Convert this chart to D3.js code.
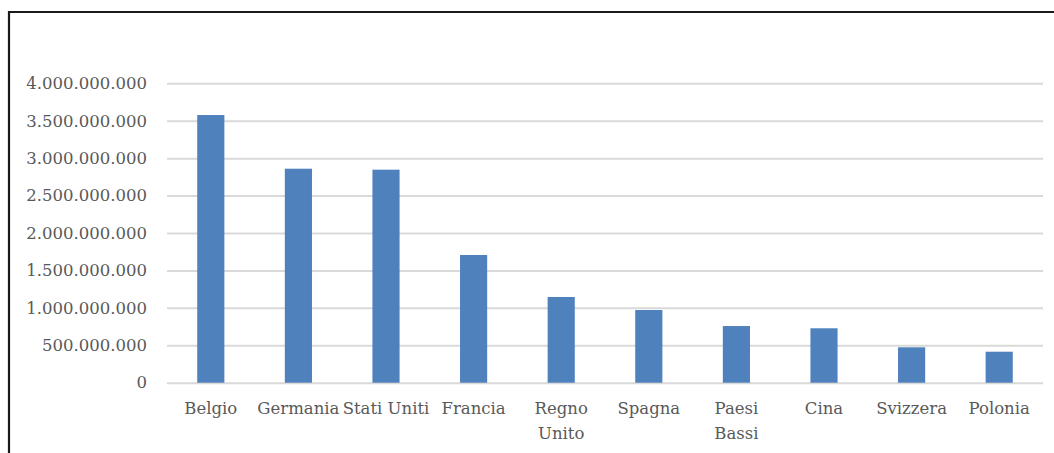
<!DOCTYPE html>
<html>
<head>
<meta charset="utf-8">
<script src="https://cdn.jsdelivr.net/npm/d3@7"></script>
<style>
  html, body { margin: 0; padding: 0; background: #fff; }
  svg { display: block; }
</style>
</head>
<body>
<svg id="chart" width="1054" height="453"></svg>
<script>
const categories = ["Belgio", "Germania", "Stati Uniti", "Francia", "Regno Unito", "Spagna", "Paesi Bassi", "Cina", "Svizzera", "Polonia"];
const tickLabels = [["Belgio"], ["Germania"], ["Stati Uniti"], ["Francia"], ["Regno", "Unito"], ["Spagna"], ["Paesi", "Bassi"], ["Cina"], ["Svizzera"], ["Polonia"]];
const values = [3576000000, 2859000000, 2846000000, 1706000000, 1145000000, 971000000, 757000000, 727000000, 473000000, 414000000];
const yTicks = [0, 500000000, 1000000000, 1500000000, 2000000000, 2500000000, 3000000000, 3500000000, 4000000000];

const svg = d3.select("#chart");
const W = 1054, H = 453;
const plot = { left: 167, right: 1043, top: 83.3, bottom: 382.7 };
const font = "'DejaVu Serif', 'Liberation Serif', serif";
const textColor = "#595959";

// frame
svg.append("path")
  .attr("d", `M9,${H} L9,12 L${W},12`)
  .attr("fill", "none").attr("stroke", "#1a1a1a").attr("stroke-width", 2.2);

const x = d3.scaleBand().domain(categories).range([plot.left, plot.right]).paddingInner(0.69).paddingOuter(0.345);
const y = d3.scaleLinear().domain([0, 4000000000]).range([plot.bottom, plot.top]);

const fmt = v => d3.format(",")(v).replace(/,/g, ".");

// gridlines + y labels
const yAxis = d3.axisLeft(y).tickValues(yTicks).tickFormat(fmt).tickSize(-(plot.right - plot.left)).tickPadding(20);
const gy = svg.append("g").attr("transform", `translate(${plot.left},0)`).call(yAxis);
gy.select(".domain").remove();
gy.selectAll(".tick line").attr("stroke", "#d9d9d9").attr("stroke-width", 2);
gy.selectAll(".tick text").attr("fill", textColor).attr("font-family", font).attr("font-size", "16.5px");

// bars
svg.append("g").selectAll("rect").data(values).join("rect")
  .attr("x", (d, i) => x(categories[i]))
  .attr("width", x.bandwidth())
  .attr("y", d => y(d))
  .attr("height", d => y(0) - y(d))
  .attr("fill", "#4f81bd");

// x labels
const xAxis = d3.axisBottom(x).tickSize(0).tickFormat("");
const gx = svg.append("g").attr("transform", `translate(0,${plot.bottom})`).call(xAxis);
gx.select(".domain").remove();
gx.selectAll(".tick").each(function(d, i) {
  const t = d3.select(this).append("text")
    .attr("fill", textColor).attr("font-family", font).attr("font-size", "16.5px")
    .attr("text-anchor", "middle").attr("y", 31);
  tickLabels[i].forEach((line, j) => {
    t.append("tspan").attr("x", 0).attr("dy", j === 0 ? 0 : 25).text(line);
  });
});
</script>
</body>
</html>
